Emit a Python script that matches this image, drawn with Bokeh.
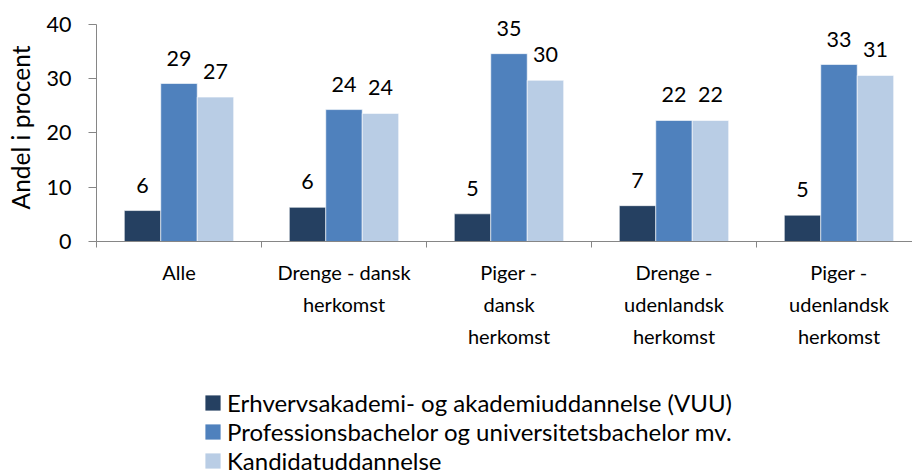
from bokeh.plotting import figure
from bokeh.layouts import column
from bokeh.models import (ColumnDataSource, Range1d, FixedTicker, LabelSet, Legend, LegendItem)
from bokeh.core.properties import value
from bokeh.transform import dodge
from bokeh.embed import file_html
from bokeh.resources import INLINE

categories = ["Alle", "Drenge - dansk\nherkomst", "Piger -\ndansk\nherkomst",
              "Drenge -\nudenlandsk\nherkomst", "Piger -\nudenlandsk\nherkomst"]
series_names = ["Erhvervsakademi- og akademiuddannelse (VUU)",
                "Professionsbachelor og universitetsbachelor mv.",
                "Kandidatuddannelse"]
vuu = [5.7, 6.3, 5.1, 6.6, 4.85]
bachelor = [29.1, 24.3, 34.6, 22.3, 32.6]
kandidat = [26.6, 23.6, 29.7, 22.3, 30.6]
vuu_labels = ["6", "6", "5", "7", "5"]
bachelor_labels = ["29", "24", "35", "22", "33"]
kandidat_labels = ["27", "24", "30", "22", "31"]
y_ticks = [0, 10, 20, 30, 40]

colors = ["#254061", "#4F81BD", "#B9CDE5"]
FONT = "Lato"
series_cols = [("vuu", "vuu_l"), ("bachelor", "bachelor_l"), ("kandidat", "kandidat_l")]

centers = [i + 0.5 for i in range(len(categories))]
boundaries = [float(i) for i in range(len(categories) + 1)]

src = ColumnDataSource(dict(x=centers, vuu=vuu, bachelor=bachelor, kandidat=kandidat,
                            vuu_l=vuu_labels, bachelor_l=bachelor_labels, kandidat_l=kandidat_labels))

p = figure(width=912, height=388, output_backend="svg", toolbar_location=None,
           x_range=Range1d(0, 816 / 165), y_range=Range1d(0, 42),
           min_border_left=96, min_border_right=0, min_border_top=13, min_border_bottom=147)
p.outline_line_color = None
p.xgrid.visible = False
p.ygrid.visible = False
p.background_fill_color = "white"

bw = 0.221
for i, (col, lab) in enumerate(series_cols):
    off = (i - 1) * bw
    p.vbar(x=dodge("x", off), top=col, width=bw, bottom=0, source=src,
           fill_color=colors[i], line_color="white", line_width=0.6)
    ls = LabelSet(x=dodge("x", off), y=col, text=lab, source=src, text_align="center",
                  text_baseline="alphabetic", y_offset=18, text_font=value(FONT),
                  text_font_size=value("21.5px"), text_color="black")
    p.add_layout(ls)

# axes
p.yaxis.ticker = FixedTicker(ticks=y_ticks, minor_ticks=[])
p.yaxis.bounds = (0, 40)
p.yaxis.axis_line_color = "#868686"
p.yaxis.major_tick_line_color = "#868686"
p.yaxis.major_tick_out = 8
p.yaxis.major_tick_in = 0
p.yaxis.minor_tick_line_color = None
p.yaxis.major_label_text_font = FONT
p.yaxis.major_label_text_font_size = "21.5px"
p.yaxis.major_label_text_color = "black"
p.yaxis.major_label_standoff = 17
p.yaxis.axis_label = "Andel i procent"
p.yaxis.axis_label_text_font = FONT
p.yaxis.axis_label_text_font_size = "24.5px"
p.yaxis.axis_label_text_font_style = "normal"
p.yaxis.axis_label_text_color = "black"
p.yaxis.axis_label_standoff = 9

p.xaxis.ticker = FixedTicker(ticks=centers, minor_ticks=boundaries)
p.xaxis.major_label_overrides = {c: lab for c, lab in zip(centers, categories)}
p.xaxis.axis_line_color = "#868686"
p.xaxis.major_tick_line_color = None
p.xaxis.minor_tick_line_color = "#868686"
p.xaxis.minor_tick_out = 6
p.xaxis.minor_tick_in = 0
p.xaxis.major_label_text_font = FONT
p.xaxis.major_label_text_font_size = "20px"
p.xaxis.major_label_text_color = "black"
p.xaxis.major_label_standoff = 12
p.xaxis.major_label_text_line_height = 1.35

# legend strip below the chart (frame aligned with the chart's frame by the column layout)
pl = figure(width=912, height=86, output_backend="svg", toolbar_location=None,
            x_range=Range1d(0, 1), y_range=Range1d(0, 1), x_axis_type=None, y_axis_type=None,
            min_border=0, min_border_left=0, min_border_right=0, min_border_top=0, min_border_bottom=0)
pl.outline_line_color = None
pl.xgrid.visible = False
pl.ygrid.visible = False
leg_renderers = []
for i, (col, lab) in enumerate(series_cols):
    r = pl.vbar(x="x", top=col, width=bw, bottom=0, source=src,
                fill_color=colors[i], line_color=None, visible=False)
    leg_renderers.append(r)
legend = Legend(items=[LegendItem(label=n, renderers=[r]) for n, r in zip(series_names, leg_renderers)],
                location=(107, -1), orientation="vertical",
                glyph_width=19, glyph_height=19, label_standoff=5, spacing=0,
                label_height=29, padding=0, margin=0, border_line_color=None,
                background_fill_alpha=0, label_text_font=FONT, label_text_font_size="24px",
                label_text_color="black")
pl.add_layout(legend, "center")

open("out.html", "w").write(file_html(column(p, pl), INLINE))
